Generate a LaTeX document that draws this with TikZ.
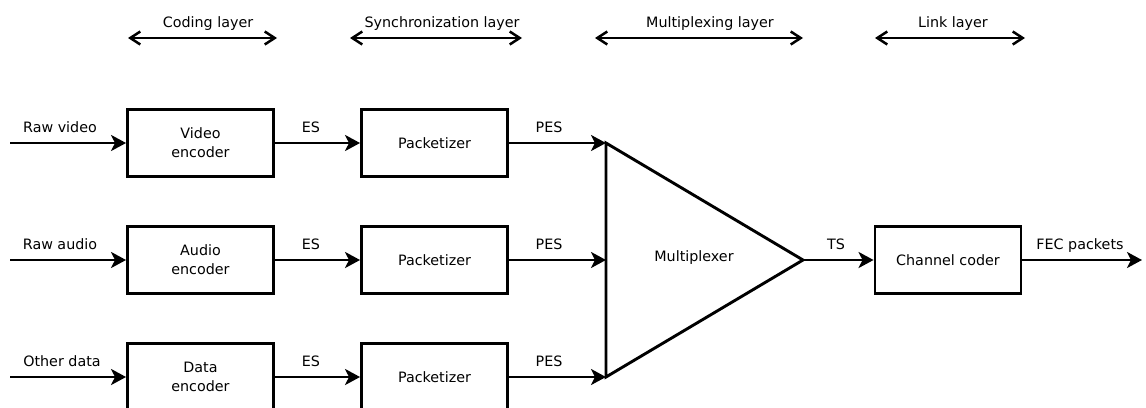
\documentclass[tikz,border=0pt]{standalone}
\usepackage{fontspec}
\setmainfont{DejaVu Sans}
\usetikzlibrary{arrows.meta}
\begin{document}
\begin{tikzpicture}[x=1pt,y=-1pt,line width=2.9pt,
  font=\fontsize{14.3}{18.7}\selectfont,
  block/.style={draw,minimum width=146pt,minimum height=67pt,align=center,inner sep=0pt},
  lbl/.style={anchor=base,inner sep=0pt},
  flow/.style={-{Stealth[length=15pt,width=16pt,inset=4pt]}},
  span/.style={line width=2.5pt,{Straight Barb[length=10pt,width=13pt]}-{Straight Barb[length=10pt,width=13pt]}}]
\useasboundingbox (0,0) rectangle (1146,407);
\clip (0,0) rectangle (1146,407);

% layer spans along the top
\coordinate (codL) at (128,38);  \coordinate (codR) at (277,38);
\coordinate (synL) at (350,38);  \coordinate (synR) at (522,38);
\coordinate (muxL) at (595,38);  \coordinate (muxR) at (803,38);
\coordinate (lnkL) at (875,38);  \coordinate (lnkR) at (1025,38);
\draw[span] (codL) -- (codR);
\draw[span] (synL) -- (synR);
\draw[span] (muxL) -- (muxR);
\draw[span] (lnkL) -- (lnkR);
\node[lbl] (tcod) at (208,27) {Coding layer};
\node[lbl] (tsyn) at (442,27) {Synchronization layer};
\node[lbl] (tmux) at (710,27) {Multiplexing layer};
\node[lbl] (tlnk) at (953,27) {Link layer};

% encoders
\node[block] (venc) at (200.5,143) {Video\\encoder};
\node[block] (aenc) at (200.5,260) {Audio\\encoder};
\node[block] (denc) at (200.5,377) {Data\\encoder};

% packetizers
\node[block] (pk1) at (434.5,143) {Packetizer};
\node[block] (pk2) at (434.5,260) {Packetizer};
\node[block] (pk3) at (434.5,377) {Packetizer};

% multiplexer
\coordinate (m1) at (606,143);
\coordinate (m2) at (606,260);
\coordinate (m3) at (606,377);
\coordinate (mt) at (803,260);
\draw (m1) -- (m3) -- (mt) -- cycle;
\node[lbl] (tmx) at (694,261) {Multiplexer};

% channel coder
\node[block] (ch) at (948,260) {Channel coder};

% inputs and output
\coordinate (in1) at (10,143);
\coordinate (in2) at (10,260);
\coordinate (in3) at (10,377);
\coordinate (out) at (1142,260);

\draw[flow] (in1) -- (venc);
\draw[flow] (in2) -- (aenc);
\draw[flow] (in3) -- (denc);
\draw[flow] (venc) -- (pk1);
\draw[flow] (aenc) -- (pk2);
\draw[flow] (denc) -- (pk3);
\draw[flow] (pk1) -- (m1);
\draw[flow] (pk2) -- (m2);
\draw[flow] (pk3) -- (m3);
\draw[flow] (mt) -- (ch);
\draw[flow] (ch) -- (out);

% stream labels
\node[lbl] (l1) at (60,132) {Raw video};
\node[lbl] (l2) at (60,249) {Raw audio};
\node[lbl] (l3) at (62,366) {Other data};
\node[lbl] (e1) at (311,132) {ES};
\node[lbl] (e2) at (311,249) {ES};
\node[lbl] (e3) at (311,366) {ES};
\node[lbl] (p1) at (549,132) {PES};
\node[lbl] (p2) at (549,249) {PES};
\node[lbl] (p3) at (549,366) {PES};
\node[lbl] (ts) at (836,249) {TS};
\node[lbl] (fec) at (1080,249) {FEC packets};
\end{tikzpicture}
\end{document}
